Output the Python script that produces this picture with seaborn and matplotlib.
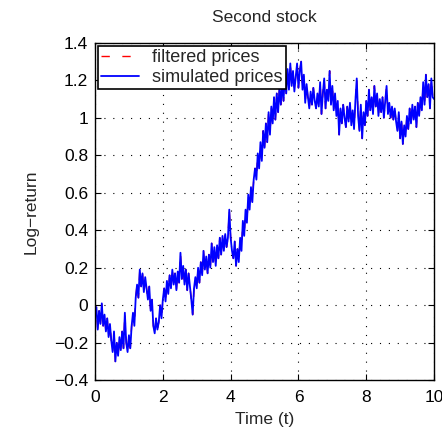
import matplotlib
matplotlib.use("Agg")
import matplotlib.pyplot as plt
from matplotlib.ticker import FuncFormatter
import numpy as np
import pandas as pd
import seaborn as sns

# time grid (step 0.04) and values
time_t = [round(i * 0.04, 2) for i in range(251)]

simulated_prices = [
    # 0.00 - 0.96
    -0.05, -0.01, -0.13, -0.03, -0.10, 0.01, -0.11, -0.05, -0.14, -0.07,
    -0.17, -0.10, -0.19, -0.25, -0.14, -0.30, -0.20, -0.27, -0.17, -0.24,
    -0.14, -0.23, -0.04, -0.20, -0.25,
    # 1.00 - 1.96
    -0.16, -0.23, -0.11, -0.04, -0.11, 0.04, 0.11, 0.04, 0.19, 0.10,
    0.17, 0.07, 0.15, 0.09, 0.03, 0.10, -0.03, 0.03, -0.11, -0.15,
    -0.07, -0.13, -0.09, 0.00, -0.07,
    # 2.00 - 2.96
    0.03, 0.09, 0.02, 0.13, 0.06, 0.16, 0.09, 0.19, 0.11, 0.17,
    0.08, 0.18, 0.12, 0.28, 0.14, 0.21, 0.11, 0.19, 0.08, 0.17,
    0.10, 0.03, -0.05, 0.09, 0.15,
    # 3.00 - 3.96
    0.09, 0.20, 0.12, 0.23, 0.16, 0.29, 0.19, 0.26, 0.17, 0.27,
    0.20, 0.33, 0.23, 0.31, 0.21, 0.32, 0.25, 0.36, 0.27, 0.37,
    0.29, 0.38, 0.31, 0.36, 0.51,
    # 4.00 - 4.96
    0.36, 0.29, 0.25, 0.34, 0.21, 0.30, 0.23, 0.36, 0.29, 0.45,
    0.37, 0.51, 0.44, 0.59, 0.51, 0.63, 0.55, 0.67, 0.73, 0.67,
    0.81, 0.73, 0.87, 0.77, 0.93,
    # 5.00 - 5.96
    0.84, 0.97, 0.87, 1.03, 0.91, 1.06, 0.97, 1.11, 0.99, 1.13,
    1.03, 1.16, 1.07, 1.19, 1.09, 1.23, 1.13, 1.26, 1.15, 1.29,
    1.17, 1.25, 1.14, 1.22, 1.29,
    # 6.00 - 6.96
    1.16, 1.25, 1.30, 1.15, 1.23, 1.08, 1.18, 1.11, 1.05, 1.14,
    1.07, 1.16, 1.09, 1.05, 1.13, 1.06, 1.19, 1.02, 1.13, 1.21,
    1.05, 1.15, 1.09, 1.25, 1.07,
    # 7.00 - 7.96
    1.17, 1.04, 1.13, 1.01, 1.09, 0.91, 1.05, 0.97, 1.07, 1.00,
    0.95, 1.06, 0.98, 1.08, 0.96, 1.04, 0.94, 1.09, 1.21, 1.01,
    0.93, 1.07, 0.89, 1.03, 0.96,
    # 8.00 - 8.96
    1.09, 1.01, 1.15, 1.04, 1.11, 1.02, 1.17, 1.06, 1.13, 1.01,
    1.10, 1.03, 1.11, 1.00, 1.09, 1.17, 1.02, 1.08, 1.00, 1.06,
    0.99, 1.05, 0.98, 0.93, 1.03,
    # 9.00 - 10.00
    0.89, 0.98, 0.86, 0.96, 0.90, 1.01, 0.94, 1.05, 0.97, 1.07,
    0.99, 1.06, 0.95, 1.08, 1.01, 1.11, 1.04, 1.19, 1.07, 1.23,
    1.11, 1.18, 1.05, 1.21, 1.11, 1.10,
]

# the filtered series lies on top of the simulated one in the picture
filtered_prices = list(simulated_prices)

x_ticks = [0, 2, 4, 6, 8, 10]
y_ticks = [-0.4, -0.2, 0, 0.2, 0.4, 0.6, 0.8, 1.0, 1.2, 1.4]

sns.set_style("ticks")
plt.rcParams["font.family"] = ["Liberation Sans", "DejaVu Sans"]
plt.rcParams["axes.unicode_minus"] = True

fig = plt.figure(figsize=(4.42, 4.37), dpi=100)
ax = fig.add_axes([0.215, 0.130, 0.767, 0.772])

df = pd.DataFrame({"t": time_t, "filtered": filtered_prices, "simulated": simulated_prices})

sns.lineplot(data=df, x="t", y="filtered", ax=ax, color="red",
             linestyle=(0, (6, 9)), linewidth=1.0, label="filtered prices")
sns.lineplot(data=df, x="t", y="simulated", ax=ax, color="blue", linestyle="-",
             linewidth=1.3, label="simulated prices")

ax.set_xlim(0, 10)
ax.set_ylim(-0.4, 1.4)
ax.set_xticks(x_ticks)
ax.set_yticks(y_ticks)
ax.xaxis.set_major_formatter(FuncFormatter(lambda v, p: f"{v:g}"))
ax.yaxis.set_major_formatter(FuncFormatter(lambda v, p: f"{v:g}".replace("-", "\u2212")))

ax.grid(True, color="black", linestyle=(0, (1, 7)), linewidth=0.8)
ax.tick_params(axis="x", direction="in", top=True, length=4, width=0.8,
               labelsize=12.5, colors="black", pad=7)
ax.tick_params(axis="y", direction="in", right=True, length=4, width=0.8,
               labelsize=12.5, colors="black", pad=5)
for s in ax.spines.values():
    s.set_visible(True)
    s.set_color("black")
    s.set_linewidth(1.0)

ax.set_xlabel("Time (t)", fontsize=12.5, labelpad=5)
ax.set_ylabel("Log\u2212return", fontsize=12.5, labelpad=11)
ax.set_title("Second stock", fontsize=12.5, pad=15)

leg = ax.legend(loc="upper left", fontsize=13, frameon=True, fancybox=False,
                framealpha=1, edgecolor="black", borderaxespad=0.15,
                handlelength=2.1, borderpad=0.2, labelspacing=0.15,
                handletextpad=0.7)
leg.get_frame().set_linewidth(1.2)

fig.savefig("out.png", dpi=100)
